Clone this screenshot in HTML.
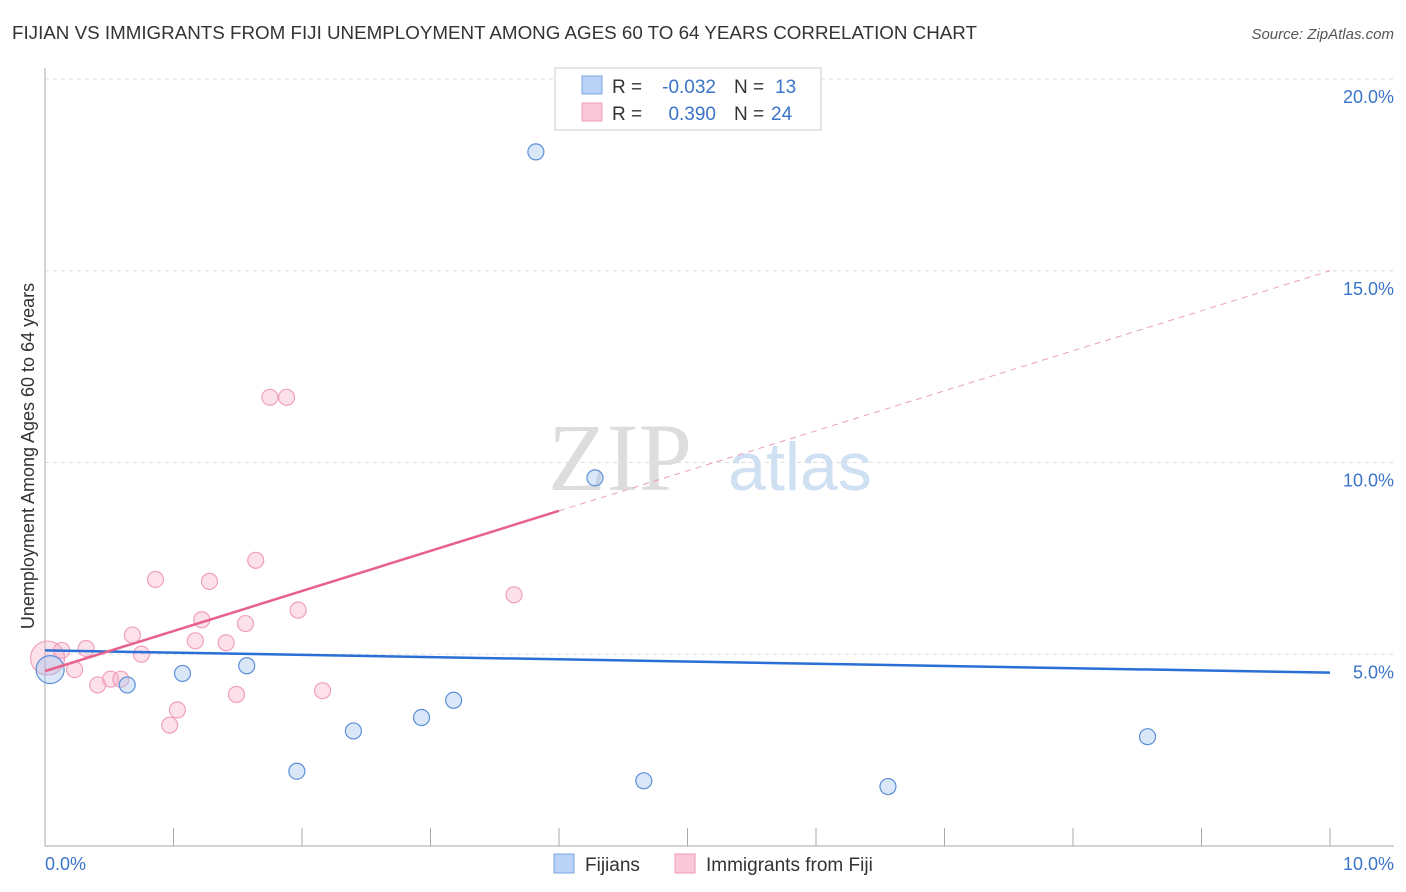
<!DOCTYPE html>
<html><head><meta charset="utf-8"><style>
body{margin:0;background:#fff;font-family:"Liberation Sans",sans-serif}
svg{display:block}
</style></head><body>
<svg width="1406" height="892">
<text x="12" y="39" font-size="18" fill="#333" textLength="965" lengthAdjust="spacingAndGlyphs">FIJIAN VS IMMIGRANTS FROM FIJI UNEMPLOYMENT AMONG AGES 60 TO 64 YEARS CORRELATION CHART</text>
<text x="1394" y="39" font-size="15" fill="#555" font-style="italic" text-anchor="end">Source: ZipAtlas.com</text>
<g id="grid"></g>
<text x="620" y="490" font-size="96" fill="#ddd" font-family="Liberation Serif,serif" text-anchor="middle">ZIP</text>
<text x="800" y="490" font-size="68" fill="#cfe0f3" text-anchor="middle">atlas</text>
<line x1="45" y1="68" x2="45" y2="846" stroke="#aaa"/>
<line x1="45" y1="846" x2="1394" y2="846" stroke="#aaa"/>
<text x="34" y="456" font-size="18" fill="#333" text-anchor="middle" transform="rotate(-90 34 456)">Unemployment Among Ages 60 to 64 years</text>
<text x="45" y="870" font-size="18" fill="#3a74c9">0.0%</text>
<text x="1394" y="870" font-size="18" fill="#3a74c9" text-anchor="end">10.0%</text>
<g id="marks"></g>
<g>
<rect x="555" y="68" width="266" height="62" fill="#fff" stroke="#ccc"/>
<rect x="582" y="76" width="20" height="18" fill="#b8d3f5" stroke="#7aa7e0"/>
<rect x="582" y="103" width="20" height="18" fill="#fac8d8" stroke="#f09ab6"/>
<text x="612" y="93" font-size="19" fill="#333">R =</text>
<text x="716" y="93" font-size="19" fill="#3a74c9" text-anchor="end">-0.032</text>
<text x="734" y="93" font-size="19" fill="#333">N =</text>
<text x="775" y="93" font-size="19" fill="#3a74c9">13</text>
<text x="612" y="120" font-size="19" fill="#333">R =</text>
<text x="716" y="120" font-size="19" fill="#3a74c9" text-anchor="end">0.390</text>
<text x="734" y="120" font-size="19" fill="#333">N =</text>
<text x="771" y="120" font-size="19" fill="#3a74c9">24</text>
</g>
<g>
<rect x="554" y="854" width="20" height="19" fill="#b8d3f5" stroke="#7aa7e0"/>
<text x="585" y="871" font-size="19" fill="#333">Fijians</text>
<rect x="675" y="854" width="20" height="19" fill="#fac8d8" stroke="#f09ab6"/>
<text x="706" y="871" font-size="19" fill="#333">Immigrants from Fiji</text>
</g>
</svg>
<script>
const yTicks=[5,10,15,20];
const xTicks=[1,2,3,4,5,6,7,8,9,10];
const fijiX=[3.82,4.28,0.04,0.64,1.07,1.57,1.96,2.40,2.93,3.18,4.66,6.56,8.58];
const fijiY=[18.1,9.6,4.6,4.2,4.5,4.7,1.95,3.0,3.35,3.8,1.7,1.55,2.85];
const immX=[0.02,0.13,0.23,0.32,0.41,0.51,0.59,0.68,0.75,0.86,0.97,1.03,1.17,1.22,1.28,1.41,1.49,1.56,1.64,1.75,1.88,1.97,2.16,3.65];
const immY=[4.9,5.1,4.6,5.15,4.2,4.35,4.35,5.5,5.0,6.95,3.15,3.55,5.35,5.9,6.9,5.3,3.95,5.8,7.45,11.7,11.7,6.15,4.05,6.55];
const fijiTrend=[5.1,4.52];
const immTrend=[4.56,8.74,15.0];
const X=v=>45+v*128.5, Y=v=>846-v*38.35;
const ns="http://www.w3.org/2000/svg";
const grid=document.getElementById('grid'), marks=document.getElementById('marks');
function mk(tag,attrs,parent){const e=document.createElementNS(ns,tag);for(const k in attrs)e.setAttribute(k,attrs[k]);parent.appendChild(e);return e;}
yTicks.forEach(t=>{
 const l=mk('line',{x1:45,x2:1394,y1:Y(t),y2:Y(t),stroke:'#ddd','stroke-dasharray':'4,4'},grid);
 
 
 const tx=mk('text',{x:1394,y:Y(t)+24,'font-size':18,fill:'#3a74c9','text-anchor':'end'},grid);
 tx.textContent=t.toFixed(1)+'%';
 
 
});
xTicks.forEach(t=>{
 const l=mk('line',{x1:X(t),x2:X(t),y1:828,y2:846,stroke:'#aaa'},grid);
 
 
});
immX.forEach((x,i)=>{
 const c=mk('circle',{cx:X(x),cy:Y(immY[i]),r:i==0?17:8,fill:'rgba(246,170,195,0.35)',stroke:'#f0a0ba','stroke-width':1.2},marks);
 
 
});
fijiX.forEach((x,i)=>{
 const c=mk('circle',{cx:X(x),cy:Y(fijiY[i]),r:i==2?14:8,fill:'rgba(160,195,240,0.4)',stroke:'#5b8fd8','stroke-width':1.2},marks);
 
 
});
let l=mk('line',{x1:X(0),y1:Y(fijiTrend[0]),x2:X(10),y2:Y(fijiTrend[1]),stroke:'#2a6fd6','stroke-width':2.5},marks);


l=mk('line',{x1:X(0),y1:Y(immTrend[0]),x2:X(4),y2:Y(immTrend[1]),stroke:'#e8608c','stroke-width':2.5},marks);


l=mk('line',{x1:X(4),y1:Y(immTrend[1]),x2:X(10),y2:Y(immTrend[2]),stroke:'#e8a0b8','stroke-width':1,'stroke-dasharray':'6,5'},marks);


</script>
</body></html>
